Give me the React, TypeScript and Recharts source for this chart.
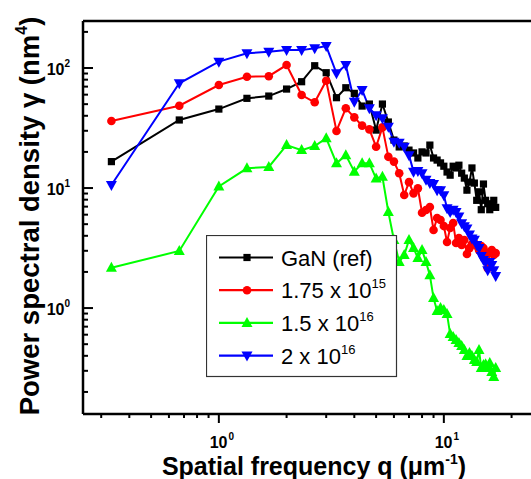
import React from 'react';
import { LineChart, Line, XAxis, YAxis, ReferenceLine, Legend } from 'recharts';

// spatial frequency q (um^-1), steps of 1/3
const qValues = [
  0.333, 0.667, 1.0, 1.333, 1.667, 2.0, 2.333, 2.667, 3.0, 3.333,
  3.667, 4.0, 4.333, 4.667, 5.0, 5.333, 5.667, 6.0, 6.333, 6.667,
  7.0, 7.333, 7.667, 8.0, 8.333, 8.667, 9.0, 9.333, 9.667, 10.0,
  10.333, 10.667, 11.0, 11.333, 11.667, 12.0, 12.333, 12.667, 13.0, 13.333,
  13.667, 14.0, 14.333, 14.667, 15.0, 15.333, 15.667, 16.0, 16.333, 16.667, 17.0,
];

const ganRef = [
  16.6, 36.9, 45.5, 55.9, 58.4, 66.8, 76.9, 104.5, 91.4, 56.6,
  68.5, 61.5, 48.2, 50.1, 30.4, 50.1, 35.5, 25.1, 22.0, 22.4,
  20.7, 19.6, 17.8, 20.0, 19.6, 22.8, 17.8, 17.1, 16.2, 15.2,
  13.6, 12.8, 15.2, 14.7, 15.5, 13.3, 12.1, 9.6, 11.2, 14.7,
  11.0, 7.9, 9.3, 6.6, 10.8, 7.9, 7.4, 6.6, 7.2, 7.9, 6.9,
];

const dose175e15 = [
  36.2, 48.5, 72.2, 84.7, 85.5, 105.9, 59.6, 51.8, 78.4, 29.9,
  46.2, 38.8, 33.1, 30.8, 22.1, 32.0, 18.2, 16.6, 13.3, 8.74,
  11.2, 9.03, 9.94, 6.22, 6.56, 6.95, 4.47, 5.62, 5.41, 4.82,
  3.55, 4.64, 5.11, 3.48, 3.83, 3.35, 3.69, 2.82, 3.16, 3.41,
  3.48, 3.29, 3.04, 3.29, 3.16, 2.87, 2.15, 2.93, 3.04, 2.77, 2.87,
];

const dose15e16 = [
  2.17, 2.99, 10.3, 14.6, 15.0, 22.8, 20.7, 22.4, 26.0, 16.1,
  18.8, 13.7, 16.1, 16.1, 12.0, 12.4, 6.31, 3.69, 2.42, 2.77,
  3.69, 3.16, 2.61, 3.04, 2.42, 1.88, 1.21, 0.944, 1.0, 0.962,
  0.891, 0.607, 0.573, 0.541, 0.511, 0.482, 0.447, 0.398, 0.422, 0.398,
  0.369, 0.355, 0.447, 0.316, 0.335, 0.341, 0.316, 0.348, 0.293, 0.266, 0.316,
];

const dose2e16 = [
  10.6, 74.6, 113, 132.5, 136.7, 141, 141, 146, 152.4, 90.3,
  105.9, 52.4, 65.6, 46.2, 40.5, 38.1, 32.4, 24.3, 23.9, 22.1,
  18.8, 13.7, 13.9, 13.3, 11.7, 11.0, 10.8, 9.6, 9.6, 8.7,
  6.8, 6.3, 6.6, 6.3, 5.8, 5.1, 4.8, 4.6, 4.1, 3.8,
  3.7, 3.35, 3.16, 2.71, 2.51, 2.42, 2.07, 2.42, 2.28, 2.07, 1.85,
];

const xTicks = [0.3, 0.4, 0.5, 0.6, 0.7, 0.8, 0.9, 1, 2, 3, 4, 5, 6, 7, 8, 9, 10, 20];
const yTicks = [
  0.2, 0.3, 0.4, 0.5, 0.6, 0.7, 0.8, 0.9, 1, 2, 3, 4, 5, 6, 7, 8, 9,
  10, 20, 30, 40, 50, 60, 70, 80, 90, 100, 200,
];
const majorExp: Record<number, string> = { 1: '0', 10: '1', 100: '2' };

const seriesNames = ['GaN (ref)', '1.75 x 10', '1.5 x 10', '2 x 10'];
const seriesExps = ['', '15', '16', '16'];
const seriesColors = ['#000000', '#ff0000', '#00ff00', '#0000ff'];

const data = qValues.map((q, i) => ({
  q,
  gan: ganRef[i],
  d1: dose175e15[i],
  d2: dose15e16[i],
  d3: dose2e16[i],
}));

const FONT = '"Liberation Sans", Arial, Helvetica, sans-serif';

const Marker = ({ kind, cx, cy, color }: { kind: number; cx: number; cy: number; color: string }) => {
  if (kind === 0) return <rect x={cx - 3.6} y={cy - 3.6} width={7.2} height={7.2} fill={color} />;
  if (kind === 1) return <circle cx={cx} cy={cy} r={4.3} fill={color} />;
  if (kind === 2)
    return <polygon points={`${cx},${cy - 6} ${cx - 5.5},${cy + 4} ${cx + 5.5},${cy + 4}`} fill={color} />;
  return <polygon points={`${cx - 5.5},${cy - 4} ${cx + 5.5},${cy - 4} ${cx},${cy + 6}`} fill={color} />;
};

const makeDot = (kind: number) => (p: any) => {
  if (p.cx == null || p.cy == null) return <g key={`e-${p.index}`} />;
  return (
    <g key={`d-${kind}-${p.index}`}>
      <Marker kind={kind} cx={p.cx} cy={p.cy} color={seriesColors[kind]} />
    </g>
  );
};

const XTick = (props: any) => {
  const { x, y, payload } = props;
  const exp = majorExp[payload.value];
  return (
    <g>
      <line x1={x} x2={x} y1={y} y2={y + (exp ? 9 : 4)} stroke="#000" strokeWidth={2} />
      {exp && (
        <text x={x + 3} y={y + 34} textAnchor="middle" fontFamily={FONT} fontWeight="bold" fontSize={16} fill="#000">
          10<tspan dx={1} dy={-8} fontSize={10}>{exp}</tspan>
        </text>
      )}
    </g>
  );
};

const YTick = (props: any) => {
  const { x, y, payload } = props;
  const exp = majorExp[payload.value];
  return (
    <g>
      <line x1={x} x2={x + (exp ? 10 : 5)} y1={y} y2={y} stroke="#000" strokeWidth={2} />
      {exp && (
        <text x={x - 13} y={y + 7} textAnchor="end" fontFamily={FONT} fontWeight="bold" fontSize={16} fill="#000">
          10<tspan dy={-8} fontSize={10}>{exp}</tspan>
        </text>
      )}
    </g>
  );
};

const XTitle = () => (
  <text x={314} y={475} textAnchor="middle" fontFamily={FONT} fontWeight="bold" fontSize={25} fill="#000">
    Spatial frequency q (μm<tspan dy={-11} fontSize={14}>-1</tspan>
    <tspan dy={11}>)</tspan>
  </text>
);

const YTitle = () => (
  <text
    x={-216}
    y={39}
    transform="rotate(-90)"
    textAnchor="middle"
    fontFamily={FONT}
    fontWeight="bold"
    fontSize={27.5}
    fill="#000"
  >
    Power spectral density γ (nm<tspan dy={-12} fontSize={16}>4</tspan>
    <tspan dy={12}>)</tspan>
  </text>
);

const LegendBox = () => (
  <svg width={192} height={143} style={{ display: 'block' }}>
    <rect x={0.5} y={0.5} width={190} height={141} fill="#fff" stroke="#333" strokeWidth={1.2} />
    {seriesNames.map((name, i) => {
      const cy = 22.5 + i * 32.7;
      return (
        <g key={name}>
          <line x1={13} x2={67} y1={cy} y2={cy} stroke={seriesColors[i]} strokeWidth={2.2} />
          <Marker kind={i} cx={41} cy={cy} color={seriesColors[i]} />
          <text x={75} y={cy + 8} fontFamily={FONT} fontSize={22} fill="#000">
            {name}
            {seriesExps[i] && (
              <tspan dy={-10} fontSize={13}>
                {seriesExps[i]}
              </tspan>
            )}
          </text>
        </g>
      );
    })}
  </svg>
);

export default function App() {
  const keys = ['gan', 'd1', 'd2', 'd3'];
  return (
    <div
      style={{
        position: 'fixed',
        left: 0,
        top: 0,
        width: 531,
        height: 479,
        overflow: 'hidden',
        background: '#fff',
      }}
    >
      <LineChart width={531} height={479} data={data} margin={{ top: 21, right: 0, left: 0, bottom: 15 }}>
        <XAxis
          dataKey="q"
          type="number"
          scale="log"
          domain={[0.249, 24.4]}
          allowDataOverflow
          ticks={xTicks}
          interval={0}
          tickSize={0}
          tickMargin={0}
          tickLine={false}
          tick={<XTick />}
          height={50}
          axisLine={{ stroke: '#000', strokeWidth: 2.5 }}
          label={{ content: <XTitle /> }}
        />
        <YAxis
          type="number"
          scale="log"
          domain={[0.131, 246.5]}
          allowDataOverflow
          ticks={yTicks}
          interval={0}
          tickSize={0}
          tickMargin={0}
          tickLine={false}
          tick={<YTick />}
          width={83}
          axisLine={{ stroke: '#000', strokeWidth: 2.5 }}
          label={{ content: <YTitle /> }}
        />
        <ReferenceLine y={246.5} stroke="#000" strokeWidth={2.5} />
        {keys.map((k, i) => (
          <Line
            key={k}
            type="linear"
            dataKey={k}
            stroke={seriesColors[i]}
            strokeWidth={2}
            dot={makeDot(i)}
            activeDot={false}
            isAnimationActive={false}
          />
        ))}
        <Legend
          layout="vertical"
          align="center"
          verticalAlign="middle"
          wrapperStyle={{ left: 206, top: 235, width: 192, height: 143 }}
          content={() => <LegendBox />}
        />
      </LineChart>
    </div>
  );
}
